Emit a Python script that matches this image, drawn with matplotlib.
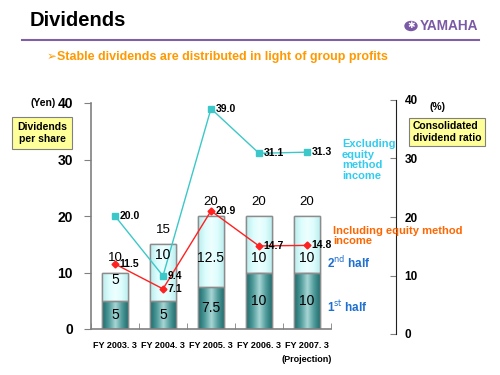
import matplotlib.pyplot as plt
import numpy as np
from matplotlib.colors import LinearSegmentedColormap

years = ['FY 2003. 3', 'FY 2004. 3', 'FY 2005. 3', 'FY 2006. 3', 'FY 2007. 3\n(Projection)']
first_half = [5, 5, 7.5, 10, 10]
second_half = [5, 10, 12.5, 10, 10]
first_lbl = ['5', '5', '7.5', '10', '10']
second_lbl = ['5', '10', '12.5', '10', '10']
total_lbl = ['10', '15', '20', '20', '20']
excl_ratio = [20.0, 9.4, 39.0, 31.1, 31.3]
incl_ratio = [11.5, 7.1, 20.9, 14.7, 14.8]

# where the 2nd-half labels sit (layout only)
second_lbl_y = [8.6, 13.1, 12.6, 12.6, 12.6]

plt.rcParams['font.family'] = ['Liberation Sans', 'DejaVu Sans']

fig = plt.figure(figsize=(5, 3.75), dpi=100)
W, H = 500, 375

def fx(px):
    return px / W

def fy(py):
    return 1 - py / H

# header
fig.text(fx(30), fy(20), 'Dividends', fontsize=14.5, fontweight='bold', va='center', ha='left')
fig.add_artist(plt.Line2D([fx(22), fx(479)], [fy(40), fy(40)], color='#7f5fa8', lw=1.5))
fig.text(fx(478), fy(26), 'YAMAHA', fontsize=9.8, fontweight='bold', color='#7a5aa6',
         ha='right', va='center')
fig.add_artist(plt.Circle((fx(411), fy(26)), 6 / W, color='#7a5aa6',
                          transform=fig.transFigure))
fig.text(fx(411), fy(26), '\u2731', fontsize=6.5, color='white', ha='center', va='center',
         family=['DejaVu Sans'])
fig.text(fx(47), fy(57), '\u27a2', fontsize=8.5, color='#ff9900', ha='left', va='center',
         family=['DejaVu Sans'])
fig.text(fx(57), fy(57), 'Stable dividends are distributed in light of group profits',
         fontsize=9, fontweight='bold', color='#ff9900', ha='left', va='center')

ax = fig.add_axes([fx(91), fy(329), fx(331) - fx(91), fy(103) - fy(329)])
x = np.arange(len(years))
bw = 0.56

dark = LinearSegmentedColormap.from_list('d', ['#1d6b6b', '#4f9a9a', '#a8d6d6', '#4f9a9a', '#1d6b6b'])
light = LinearSegmentedColormap.from_list('l', ['#b8ecec', '#dcfcfc', '#edffff', '#dcfcfc', '#b8ecec'])
grad = np.linspace(0, 1, 64).reshape(1, -1)

b1 = ax.bar(x, first_half, bw, color='#4f9a9a', edgecolor='#8c8c8c', lw=1, zorder=2)
b2 = ax.bar(x, second_half, bw, bottom=first_half, color='#dcfcfc', edgecolor='#8c8c8c', lw=1, zorder=2)
for bars, cmap in [(b1, dark), (b2, light)]:
    for r in bars:
        x0, y0 = r.get_x(), r.get_y()
        im = ax.imshow(grad, cmap=cmap, aspect='auto', zorder=2.1,
                       extent=[x0, x0 + r.get_width(), y0, y0 + r.get_height()])
        im.set_clip_path(r)
for bars in (b1, b2):
    for r in bars:
        ax.add_patch(plt.Rectangle((r.get_x(), r.get_y()), r.get_width(), r.get_height(),
                                   fill=False, edgecolor='#8c8c8c', lw=1, zorder=2.2))

for i in range(len(x)):
    ax.text(x[i], first_half[i] / 2, first_lbl[i], ha='center', va='center', fontsize=10, zorder=5)
    ax.text(x[i], second_lbl_y[i], second_lbl[i], ha='center', va='center',
            fontsize=10, zorder=5)
    ax.text(x[i], first_half[i] + second_half[i] + 2.5, total_lbl[i], ha='center', va='center',
            fontsize=9.5, zorder=5)

ax.plot(x, excl_ratio, color='#3cc8c8', lw=1, marker='s', ms=4.5, zorder=4)
ax.plot(x, incl_ratio, color='#ff2020', lw=1, marker='D', ms=3.5, zorder=4)
for i in range(len(x)):
    ax.text(x[i] + 0.1, excl_ratio[i], '%.1f' % excl_ratio[i], fontsize=7.5, fontweight='bold',
            ha='left', va='center', zorder=6)
    ax.text(x[i] + 0.1, incl_ratio[i], '%.1f' % incl_ratio[i], fontsize=7.5, fontweight='bold',
            ha='left', va='center', zorder=6)

ax.set_xlim(-0.5, len(x) - 0.5)
ax.set_ylim(0, 40)
ax.set_yticks([0, 10, 20, 30, 40])
ax.set_xticks(x)
ax.set_xticklabels(years, fontsize=6.5, fontweight='bold', linespacing=1.6)
ax.set_xticks(np.arange(len(x) + 1) - 0.5, minor=True)
ax.tick_params(axis='x', which='major', length=0, pad=9)
ax.tick_params(axis='x', which='minor', length=4, color='#808080', direction='in')
ax.tick_params(axis='y', length=5, color='#808080', labelsize=10, pad=8)
for t in ax.get_yticklabels():
    t.set_fontweight('bold')
for s in ['top', 'right']:
    ax.spines[s].set_visible(False)
for s in ['left', 'bottom']:
    ax.spines[s].set_color('#808080')
    ax.spines[s].set_linewidth(1.2)
ax.patch.set_alpha(0)

# right axis (%)
ax2 = fig.add_axes([fx(396), fy(334), 0.0005, fy(100) - fy(334)])
ax2.set_ylim(0, 40)
ax2.set_yticks([0, 10, 20, 30, 40])
ax2.set_xticks([])
for s in ['top', 'right', 'bottom']:
    ax2.spines[s].set_visible(False)
ax2.spines['left'].set_color('#202020')
ax2.tick_params(axis='y', left=True, right=False, labelleft=False, labelright=True,
                length=4, color='#808080', labelsize=8.5, pad=2)
for t in ax2.get_yticklabels():
    t.set_fontweight('bold')
ax2.patch.set_alpha(0)

# annotations
fig.text(fx(43), fy(103), '(Yen)', fontsize=7.5, fontweight='bold', ha='center', va='center')
fig.text(fx(42), fy(133), 'Dividends\nper share', fontsize=7.5, fontweight='bold', ha='center',
         va='center', linespacing=1.3,
         bbox=dict(boxstyle='square,pad=0.45', fc='#ffff99', ec='#808080', lw=0.8))
fig.text(fx(437), fy(107), '(%)', fontsize=7.5, fontweight='bold', ha='center', va='center')
fig.text(fx(413), fy(132), 'Consolidated\ndividend ratio', fontsize=7.5, fontweight='bold',
         ha='left', va='center', linespacing=1.2,
         bbox=dict(boxstyle='square,pad=0.35', fc='#ffff99', ec='#808080', lw=0.8))
fig.text(fx(342), fy(160), 'Excluding\nequity\nmethod\nincome', fontsize=8, fontweight='bold',
         color='#33ccee', ha='left', va='center', linespacing=1.05)
fig.text(fx(333), fy(236), 'Including equity method\nincome', fontsize=8, fontweight='bold',
         color='#ff6600', ha='left', va='center', linespacing=1.05)
fig.text(fx(327), fy(263), '2$^{\\mathrm{nd}}$ half', fontsize=8.5, fontweight='bold',
         color='#1f6fd0', ha='left', va='center')
fig.text(fx(327), fy(307), '1$^{\\mathrm{st}}$ half', fontsize=8.5, fontweight='bold',
         color='#1f6fd0', ha='left', va='center')

fig.savefig('out.png', dpi=100)
